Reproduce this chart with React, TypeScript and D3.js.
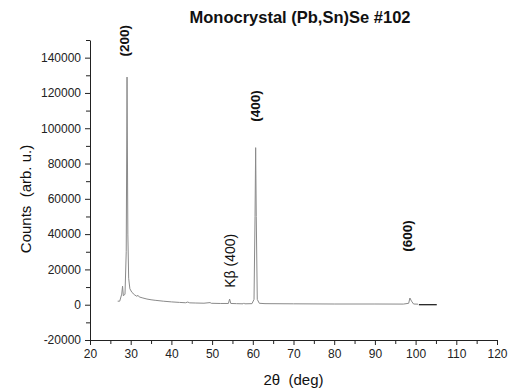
import * as d3 from "d3";
import { useEffect, useRef } from "react";

const WIDTH = 510;
const HEIGHT = 390;
const MARGIN = { top: 40, right: 13, bottom: 50, left: 90 };
const FONT = "'Liberation Sans', Arial, sans-serif";

// measured XRD scan, 2θ (deg) and counts
const twoTheta = [
  26.8, 27.3, 27.8, 28.0, 28.2, 28.6, 28.9, 29.1, 29.3, 29.5, 29.8, 30.3, 31.0,
  31.5, 31.8, 32.1, 33, 34, 35, 36, 38, 40, 42, 43.5, 44, 44.5, 46, 48, 49.5,
  49.8, 52, 54.0, 54.3, 54.6, 56, 57.6, 57.8, 58.0, 59.8, 60.3, 60.55, 60.7,
  60.85, 61.1, 61.6, 63, 70, 80, 90, 97, 98.3, 98.6, 99.0, 99.5, 100.6,
];
const counts = [
  2000, 2000, 6000, 10500, 5000, 6000, 30000, 129000, 40000, 15000, 9000, 7000,
  5500, 4800, 5300, 4400, 3800, 3200, 2800, 2500, 2000, 1600, 1300, 1100, 1500,
  1050, 950, 850, 1200, 800, 700, 700, 3200, 700, 600, 500, 1000, 500, 600,
  3000, 50000, 89000, 50000, 3000, 800, 600, 500, 400, 400, 350, 800, 3800,
  2000, 400, 300,
];
// flat tail of the scan
const tailTheta = [100.8, 105.2];
const tailCounts = [0, 0];

const xTicks = [20, 30, 40, 50, 60, 70, 80, 90, 100, 110, 120];
const yTicks = [-20000, 0, 20000, 40000, 60000, 80000, 100000, 120000, 140000];

const peakLabels = [
  { text: "(200)", x: 28.6, y: 140700, bold: true },
  { text: "(400)", x: 60.7, y: 103700, bold: true },
  { text: "Kβ (400)", x: 54.65, y: 9600, bold: false },
  { text: "(600)", x: 98.2, y: 30000, bold: true },
];

export default function App() {
  const svgRef = useRef<SVGSVGElement>(null);

  useEffect(() => {
    const svg = d3.select(svgRef.current);
    svg.selectAll("*").remove();

    const xScale = d3
      .scaleLinear()
      .domain([20, 120])
      .range([MARGIN.left, WIDTH - MARGIN.right]);
    const yScale = d3
      .scaleLinear()
      .domain([-20000, 150000])
      .range([HEIGHT - MARGIN.bottom, MARGIN.top]);

    // minor ticks
    svg
      .append("g")
      .attr("transform", `translate(0, ${HEIGHT - MARGIN.bottom})`)
      .call(
        d3
          .axisBottom(xScale)
          .tickValues(d3.range(25, 120, 10))
          .tickSize(4)
          .tickFormat(() => ""),
      )
      .call((g) => g.select(".domain").remove());
    svg
      .append("g")
      .attr("transform", `translate(${MARGIN.left}, 0)`)
      .call(
        d3
          .axisLeft(yScale)
          .tickValues(d3.range(-10000, 150001, 20000))
          .tickSize(4)
          .tickFormat(() => ""),
      )
      .call((g) => g.select(".domain").remove());

    const xAxis = d3
      .axisBottom(xScale)
      .tickValues(xTicks)
      .tickSizeInner(5)
      .tickSizeOuter(0)
      .tickPadding(4);
    const yAxis = d3
      .axisLeft(yScale)
      .tickValues(yTicks)
      .tickFormat((d) => String(d))
      .tickSizeInner(5)
      .tickSizeOuter(0)
      .tickPadding(4);

    svg
      .append("g")
      .attr("transform", `translate(0, ${HEIGHT - MARGIN.bottom})`)
      .call(xAxis);
    svg
      .append("g")
      .attr("transform", `translate(${MARGIN.left}, 0)`)
      .call(yAxis);

    svg
      .selectAll(".tick text")
      .attr("font-family", FONT)
      .attr("font-size", 12)
      .attr("fill", "#222");
    svg.selectAll(".domain, .tick line").attr("stroke", "#222");

    const line = d3
      .line<number>()
      .x((d) => xScale(d))
      .y((_, i) => yScale(counts[i]));
    svg
      .append("path")
      .datum(twoTheta)
      .attr("fill", "none")
      .attr("stroke", "#8a8a8a")
      .attr("stroke-width", 1)
      .attr("d", line);

    svg
      .append("path")
      .datum(tailTheta)
      .attr("fill", "none")
      .attr("stroke", "#111")
      .attr("stroke-width", 1.2)
      .attr(
        "d",
        d3
          .line<number>()
          .x((d) => xScale(d))
          .y((_, i) => yScale(tailCounts[i])),
      );

    peakLabels.forEach((p) => {
      svg
        .append("text")
        .attr(
          "transform",
          `translate(${xScale(p.x) + 4}, ${yScale(p.y)}) rotate(-90)`,
        )
        .attr("font-family", FONT)
        .attr("font-size", p.bold ? 13.5 : 14)
        .attr("font-weight", p.bold ? "bold" : "normal")
        .attr("fill", "#111")
        .text(p.text);
    });

    svg
      .append("text")
      .attr("x", 300)
      .attr("y", 23)
      .attr("text-anchor", "middle")
      .attr("font-family", FONT)
      .attr("font-size", 16.5)
      .attr("font-weight", "bold")
      .attr("fill", "#111")
      .text("Monocrystal (Pb,Sn)Se #102");

    svg
      .append("text")
      .attr("x", (MARGIN.left + WIDTH - MARGIN.right) / 2)
      .attr("y", 385)
      .attr("text-anchor", "middle")
      .attr("font-family", FONT)
      .attr("font-size", 15)
      .attr("fill", "#111")
      .attr("xml:space", "preserve")
      .text("2θ  (deg)");

    svg
      .append("text")
      .attr("transform", `translate(31, 199) rotate(-90)`)
      .attr("text-anchor", "middle")
      .attr("font-family", FONT)
      .attr("font-size", 15)
      .attr("fill", "#111")
      .attr("xml:space", "preserve")
      .text("Counts  (arb. u.)");
  }, []);

  return (
    <svg
      ref={svgRef}
      width={WIDTH}
      height={HEIGHT}
      style={{ position: "absolute", left: 0, top: 0, background: "#fff" }}
    />
  );
}
